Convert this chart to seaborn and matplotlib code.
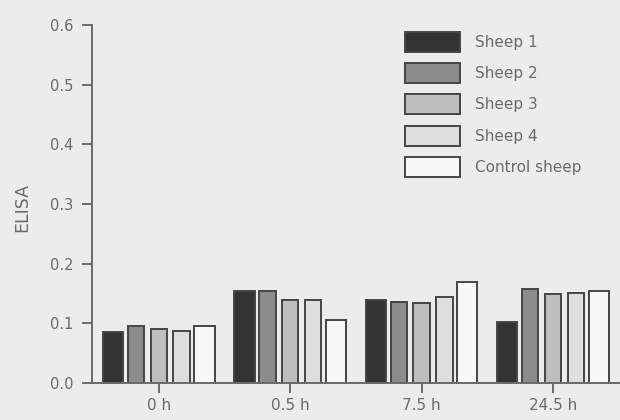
import matplotlib
matplotlib.use("Agg")
import matplotlib.pyplot as plt
import seaborn as sns
import pandas as pd

# ELISA readings per animal at each sampling time
times = ["0 h", "0.5 h", "7.5 h", "24.5 h"]
groups = ["Sheep 1", "Sheep 2", "Sheep 3", "Sheep 4", "Control sheep"]
sheep1 = [0.086, 0.155, 0.140, 0.102]
sheep2 = [0.096, 0.155, 0.136, 0.157]
sheep3 = [0.091, 0.139, 0.134, 0.149]
sheep4 = [0.087, 0.140, 0.144, 0.151]
control = [0.096, 0.106, 0.169, 0.154]
yticks = [0.0, 0.1, 0.2, 0.3, 0.4, 0.5, 0.6]

series = [sheep1, sheep2, sheep3, sheep4, control]
rows = []
for g, vals in zip(groups, series):
    for t, v in zip(times, vals):
        rows.append({"time": t, "group": g, "ELISA": v})
df = pd.DataFrame(rows)

bg = "#ececec"
ink = "#6a6a6a"
edge = "#454545"
fills = ["#333333", "#8c8c8c", "#bebebe", "#dedede", "#f7f7f7"]

sns.set_style("ticks")
plt.rcParams["font.family"] = ["DejaVu Sans"]

fig = plt.figure(figsize=(6.2, 4.2), dpi=100, facecolor=bg)
ax = fig.add_axes([0.148, 0.088, 0.852, 0.852])
ax.set_facecolor(bg)

sns.barplot(data=df, x="time", y="ELISA", hue="group", order=times,
            hue_order=groups, palette=fills, edgecolor=edge, linewidth=1.4,
            width=0.87, ax=ax, legend=True)

# narrower inner bars, wider outer bars within each group
bar_w = [0.155, 0.125, 0.125, 0.125, 0.155]
for cont, w in zip(ax.containers, bar_w):
    for p in cont.patches:
        cx = p.get_x() + p.get_width() / 2
        p.set_width(w)
        p.set_x(cx - w / 2)

ax.set_xlim(-0.51, 3.51)
ax.set_ylim(0, 0.6)
ax.set_yticks(yticks)
ax.set_yticklabels([f"{v:.1f}" for v in yticks])
ax.set_xlabel("")
ax.set_ylabel("ELISA", color=ink, fontsize=12.5)
ax.yaxis.set_label_coords(-0.115, 0.49)

for s in ["top", "right"]:
    ax.spines[s].set_visible(False)
for s in ["left", "bottom"]:
    ax.spines[s].set_color(ink)
    ax.spines[s].set_linewidth(1.4)
ax.tick_params(axis="both", colors=ink, labelcolor=ink, labelsize=11,
               length=7, width=1.4, direction="out")
ax.tick_params(axis="y", labelsize=10.5, pad=6)
ax.tick_params(axis="x", pad=4)

handles, labels = ax.get_legend_handles_labels()
ax.legend(handles, labels, loc="upper left", bbox_to_anchor=(405 / 620, 1 - 32 / 420),
          bbox_transform=fig.transFigure, frameon=False, fontsize=11,
          handlelength=3.6, handleheight=1.64, labelspacing=0.73,
          handletextpad=1.0, borderpad=0, borderaxespad=0, labelcolor=ink)
for h in ax.get_legend().legend_handles:
    h.set_edgecolor(edge)
    h.set_linewidth(1.4)

fig.savefig("out.png", dpi=100, facecolor=bg)
